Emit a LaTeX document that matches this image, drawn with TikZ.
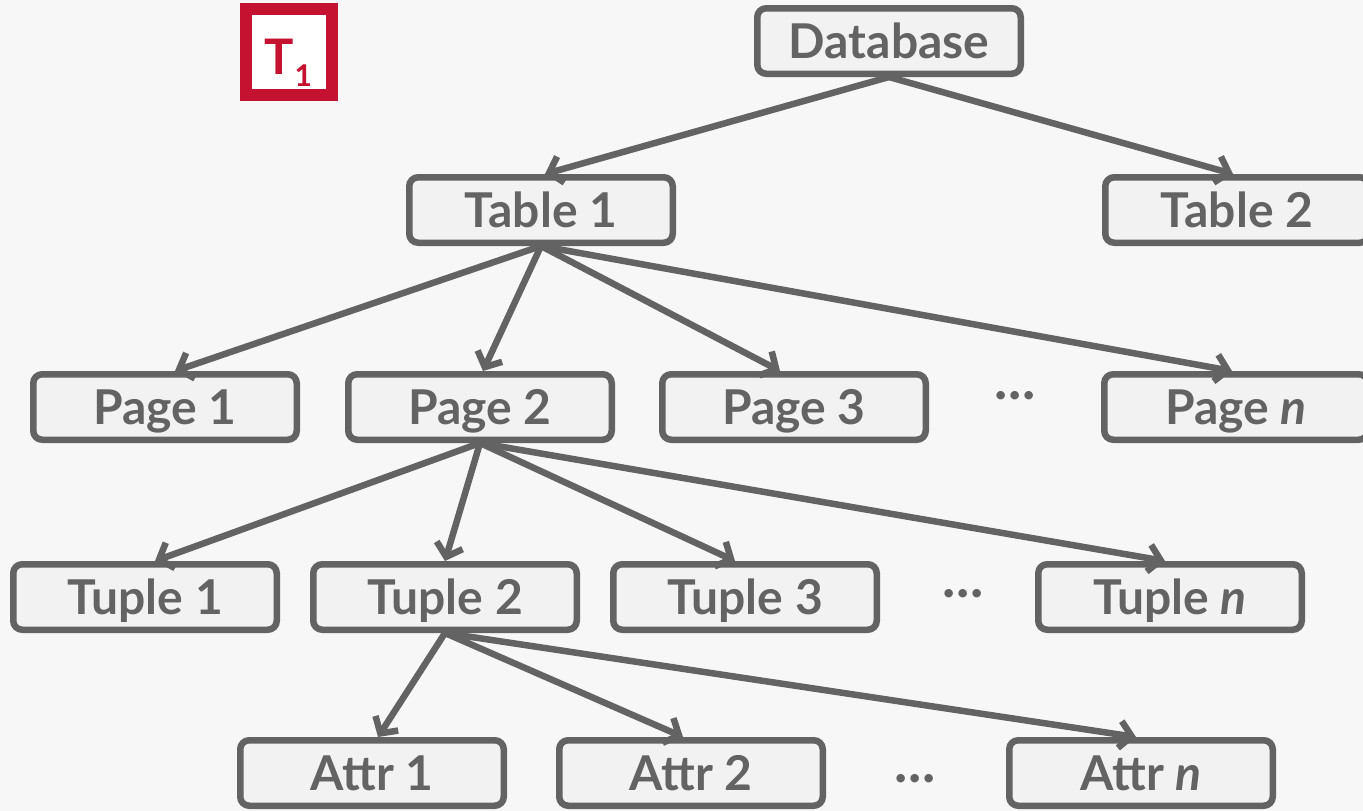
\documentclass[tikz,border=0pt]{standalone}
\usepackage{fontspec}
\setmainfont{Lato}
\usetikzlibrary{arrows.meta}
\definecolor{bg}{HTML}{F7F7F7}
\definecolor{boxfill}{HTML}{F2F2F2}
\definecolor{ln}{HTML}{636363}
\definecolor{cmured}{HTML}{C41230}
\begin{document}
\begin{tikzpicture}[x=1pt,y=-1pt,
  box/.style={draw=ln, line width=6.5pt, fill=boxfill, rounded corners=9pt,
    minimum width=263.5pt, minimum height=65.5pt, inner sep=0pt, text=ln,
    text height=34pt, text depth=0pt,
    font=\fontsize{48}{52}\selectfont\bfseries},
  conn/.style={draw=ln, line width=6.5pt, -{Straight Barb[length=12pt,width=27pt]}},
  dots/.style={text=ln, font=\fontsize{56}{60}\selectfont\bfseries, inner sep=0pt}]
\fill[bg] (0,0) rectangle (1363,811);
\useasboundingbox (0,0) rectangle (1363,811);
% T1 badge
\node[draw=cmured, line width=12pt, fill=white, minimum size=86pt, inner sep=0pt] (t1) at (289,52) {};
\node[text=cmured, font=\fontsize{49}{50}\selectfont\bfseries, inner sep=0pt, anchor=base west] (t1txt) at (264,74) {T\kern1pt\raisebox{-13pt}{\fontsize{30}{31}\selectfont 1}};
% nodes
\node[box] (db) at (889,41) {Database};
\node[box] (tab1) at (541,210) {Table 1};
\node[box] (tab2) at (1237,210) {Table 2};
\node[box] (p1) at (165,407) {Page 1};
\node[box] (p2) at (480,407) {Page 2};
\node[box] (p3) at (794,407) {Page 3};
\node[dots] (pd) at (1015,396) {.\kern1pt.\kern1pt.};
\node[box] (pn) at (1236,407) {Page \textit{n}};
\node[box] (u1) at (145,597) {Tuple 1};
\node[box] (u2) at (445,597) {Tuple 2};
\node[box] (u3) at (745,597) {Tuple 3};
\node[dots] (ud) at (963,594) {.\kern1pt.\kern1pt.};
\node[box] (un) at (1170,597) {Tuple \textit{n}};
\node[box] (a1) at (372,773) {Attr 1};
\node[box] (a2) at (691,773) {Attr 2};
\node[dots] (ad) at (915,779) {.\kern1pt.\kern1pt.};
\node[box] (an) at (1141,773) {Attr \textit{n}};
% connectors
\draw[conn] (db.south) -- ([xshift=4pt]tab1.north);
\draw[conn] (db.south) -- ([xshift=-4pt]tab2.north);
\draw[conn] (tab1.south) -- ([xshift=10pt]p1.north);
\draw[conn] (tab1.south) -- ([xshift=3pt]p2.north);
\draw[conn] (tab1.south) -- ([xshift=-14pt]p3.north);
\draw[conn] (tab1.south) -- ([xshift=-4pt]pn.north);
\draw[conn] (p2.south) -- ([xshift=10pt]u1.north);
\draw[conn] (p2.south) -- ([xshift=0pt]u2.north);
\draw[conn] (p2.south) -- ([xshift=-10pt]u3.north);
\draw[conn] (p2.south) -- ([xshift=-5pt]un.north);
\draw[conn] (u2.south) -- ([xshift=6pt]a1.north);
\draw[conn] (u2.south) -- ([xshift=-8pt]a2.north);
\draw[conn] (u2.south) -- ([xshift=-5pt]an.north);
\end{tikzpicture}
\end{document}
